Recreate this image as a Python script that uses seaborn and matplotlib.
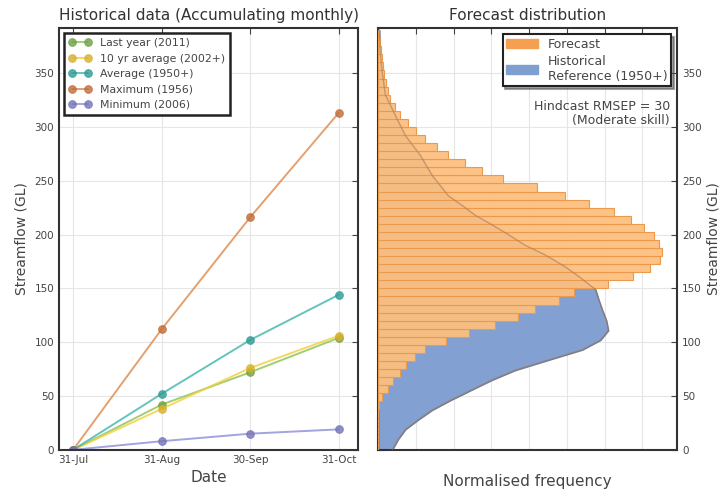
import numpy as np
import pandas as pd
import matplotlib
matplotlib.use("Agg")
import matplotlib.pyplot as plt
from matplotlib.patches import Patch
import seaborn as sns

# Left panel: accumulated monthly streamflow (GL)
dates = ['31-Jul', '31-Aug', '30-Sep', '31-Oct']
last_year = [0, 42, 72, 104]
ten_yr_avg = [0, 38, 76, 106]
average = [0, 52, 102, 144]
maximum = [0, 112, 216, 313]
minimum = [0, 8, 15, 19]

series_names = ['Last year (2011)', '10 yr average (2002+)', 'Average (1950+)',
                'Maximum (1956)', 'Minimum (2006)']
series_colors = ['#8cc152', '#f2cf3a', '#3db5ad', '#e0874a', '#8c8cd6']
marker_colors = ['#6fa044', '#d8b02c', '#2f9c94', '#c06d38', '#7474b8']

# Right panel: forecast histogram (bin width 7.5 GL) and historical reference density
bin_edges = [i * 7.5 for i in range(53)]
forecast_freq = [0, 0, 0, 0, 0, 0.01, 0.1, 0.27, 0.4, 0.58, 0.75, 0.98, 1.25,
                 1.8, 2.4, 3.1, 3.7, 4.15, 4.8, 5.2, 6.1, 6.75, 7.2, 7.48, 7.53,
                 7.45, 7.3, 7.05, 6.7, 6.25, 5.6, 4.95, 4.2, 3.3, 2.75, 2.3,
                 1.85, 1.55, 1.25, 1.0, 0.8, 0.58, 0.45, 0.32, 0.26, 0.2, 0.16,
                 0.13, 0.09, 0.07, 0.05, 0.03]
hist_levels = [0, 10, 19, 28, 37, 46, 56, 65, 74, 84, 93, 102, 111, 120, 130,
               140, 149, 160, 170, 181, 190, 200, 209, 218, 227, 236, 255, 274,
               292, 311, 330, 350, 370, 390]
hist_density = [0.37, 0.53, 0.72, 1.06, 1.43, 1.91, 2.49, 3.02, 3.63, 4.56,
                5.41, 5.89, 6.1, 6.05, 5.94, 5.84, 5.76, 5.36, 4.96, 4.43,
                3.9, 3.45, 3.02, 2.57, 2.23, 1.86, 1.43, 1.11, 0.72, 0.45,
                0.19, 0.11, 0.05, 0.03]

sns.set_style("whitegrid")
plt.rcParams.update({
    'font.family': ['DejaVu Sans'],
    'text.color': '#444444',
    'axes.labelcolor': '#444444',
    'xtick.color': '#444444',
    'ytick.color': '#444444',
    'axes.edgecolor': '#333333',
    'grid.color': '#e6e6e6',
    'grid.linewidth': 0.8,
})

fig = plt.figure(figsize=(7.19, 4.90), dpi=100)
ax1 = fig.add_axes([0.082, 0.082, 0.416, 0.861])
ax2 = fig.add_axes([0.526, 0.082, 0.416, 0.861])

x_pos = np.arange(len(dates))
all_series = [last_year, ten_yr_avg, average, maximum, minimum]
for vals, name, col, mcol in zip(all_series, series_names, series_colors, marker_colors):
    sns.lineplot(x=x_pos, y=vals, ax=ax1, color=col, lw=1.4, marker='o',
                 markersize=5.5, markerfacecolor=mcol, markeredgecolor=mcol,
                 alpha=0.8, label=name)

ax1.set_xticks(x_pos)
ax1.set_xticklabels(dates)
ax1.set_xlim(-0.16, 3.22)
ax1.set_ylim(0, 392)
ax1.set_yticks(range(0, 351, 50))
ax1.set_xlabel('Date', fontsize=11)
ax1.set_ylabel('Streamflow (GL)', fontsize=10)
ax1.set_title('Historical data (Accumulating monthly)', fontsize=11, color='#333333')
ax1.tick_params(direction='in', length=4, labelsize=7.5, top=True, right=True)
leg1 = ax1.legend(loc='upper left', fontsize=7.8, numpoints=2, framealpha=1,
                  fancybox=False, handlelength=2.0, borderpad=0.45, labelspacing=0.5)
leg1.get_frame().set_edgecolor('#222222')
leg1.get_frame().set_linewidth(1.8)

# historical reference (behind), forecast histogram on top
ax2.fill_betweenx(hist_levels, 0, hist_density, color='#82a1d2', lw=1.0,
                  edgecolor='#6a7fa0', zorder=2)
fc = pd.DataFrame({'flow': [(a + b) / 2 for a, b in zip(bin_edges[:-1], bin_edges[1:])],
                   'freq': forecast_freq})
sns.histplot(data=fc, y='flow', weights='freq', bins=bin_edges, ax=ax2,
             color='#fcbf80', alpha=0.95, edgecolor='#eb9a4c', linewidth=0.8, zorder=3)
sns.lineplot(x=hist_density, y=hist_levels, ax=ax2, sort=False, orient='y',
             color='#a07858', lw=1.0, alpha=0.55, zorder=4)

ax2.set_xlim(0, 7.93)
ax2.set_ylim(0, 392)
ax2.set_xticks(range(0, 8))
ax2.set_xticklabels([])
ax2.set_yticks(range(0, 351, 50))
ax2.yaxis.tick_right()
ax2.yaxis.set_label_position('right')
ax2.set_ylabel('Streamflow (GL)', fontsize=10, labelpad=3)
ax2.set_xlabel('Normalised frequency', fontsize=11, labelpad=14)
ax2.set_title('Forecast distribution', fontsize=11, color='#333333')
ax2.tick_params(direction='in', length=4, labelsize=7.5, top=True, left=True)
handles = [Patch(facecolor='#f5a050', edgecolor='#f5a050'),
           Patch(facecolor='#7f9fd0', edgecolor='#7f9fd0')]
leg2 = ax2.legend(handles, ['Forecast', 'Historical\nReference (1950+)'],
                  loc='upper right', fontsize=9, framealpha=1, fancybox=False,
                  shadow=True, borderpad=0.3, labelspacing=0.3, handlelength=2.5)
leg2.get_frame().set_edgecolor('#222222')
leg2.get_frame().set_linewidth(1.5)
ax2.text(0.975, 0.83, 'Hindcast RMSEP = 30\n(Moderate skill)', transform=ax2.transAxes,
         ha='right', va='top', fontsize=9, multialignment='right', linespacing=1.1)

for ax in (ax1, ax2):
    for sp in ax.spines.values():
        sp.set_linewidth(1.5)
        sp.set_visible(True)

fig.savefig('out.png', dpi=100)
